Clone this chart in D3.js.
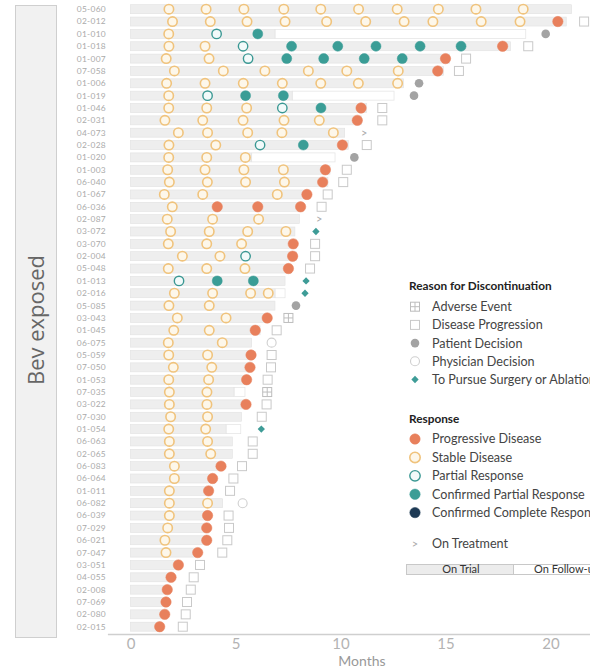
<!DOCTYPE html>
<html>
<head>
<meta charset="utf-8">
<script src="https://cdn.jsdelivr.net/npm/d3@7"></script>
<style>
  html, body { margin: 0; padding: 0; background: #fff; overflow: hidden; }
  svg { display: block; font-family: Lato, "Open Sans", sans-serif; }
</style>
</head>
<body>
<svg id="chart" width="590" height="669"></svg>
<script>
// Patient IDs, top to bottom
const patients = ["05-060","02-012","01-010","01-018","01-007","07-058","01-006","01-019","01-046","02-031",
  "04-073","02-028","01-020","01-003","06-040","01-067","06-036","02-087","03-072","03-070",
  "02-004","05-048","01-013","02-016","05-085","03-043","01-045","06-075","05-059","07-050",
  "01-053","07-035","03-022","07-030","01-054","06-063","02-065","06-083","06-064","01-011",
  "06-082","06-039","07-029","06-021","07-047","03-051","04-055","02-008","07-069","02-080","02-015"];

// Months on trial
const trialEnd = [21.0,20.75,6.88,18.1,15.2,14.9,13.0,7.7,11.25,11.0,
  10.2,10.37,5.77,9.5,9.4,8.55,8.23,8.04,7.83,7.9,
  7.9,7.67,7.36,6.88,6.88,6.64,6.17,5.77,5.85,5.8,
  5.65,4.93,5.6,5.29,4.55,4.85,4.85,4.4,4.05,3.9,
  4.39,3.8,3.75,3.75,3.3,2.4,2.05,1.9,1.8,1.75,1.5];

// End of follow-up (null when there is none)
const followEnd = [null,null,18.82,null,null,null,null,12.55,null,null,
  null,null,9.74,null,null,null,null,null,null,null,
  null,null,null,7.36,null,null,null,null,null,null,
  null,5.45,null,null,5.25,null,null,null,null,null,
  null,null,null,null,null,null,null,null,null,null,null];

// Tumour assessments: [month, response]
const assessments = [
  [[1.83,"SD"],[3.6,"SD"],[5.4,"SD"],[7.3,"SD"],[9.06,"SD"],[10.86,"SD"],[12.7,"SD"],[14.66,"SD"],[16.45,"SD"],[18.7,"SD"]],
  [[2.0,"SD"],[3.8,"SD"],[5.55,"SD"],[7.36,"SD"],[9.34,"SD"],[11.2,"SD"],[13.03,"SD"],[14.4,"SD"],[16.7,"SD"],[18.55,"SD"],[20.35,"PD"]],
  [[1.82,"SD"],[4.1,"PR"],[6.06,"CPR"]],
  [[1.83,"SD"],[3.55,"SD"],[5.36,"PR"],[7.67,"CPR"],[9.87,"CPR"],[11.69,"CPR"],[13.79,"CPR"],[15.74,"CPR"],[17.72,"PD"]],
  [[1.7,"SD"],[3.74,"SD"],[5.6,"PR"],[7.44,"CPR"],[9.2,"CPR"],[11.13,"CPR"],[12.94,"CPR"],[15.0,"PD"]],
  [[2.09,"SD"],[4.42,"SD"],[6.4,"SD"],[8.47,"SD"],[10.3,"SD"],[12.75,"SD"],[14.63,"PD"]],
  [[1.72,"SD"],[3.55,"SD"],[5.37,"SD"],[7.23,"SD"],[9.06,"SD"],[10.85,"SD"],[12.72,"SD"]],
  [[1.82,"SD"],[3.67,"PR"],[5.48,"CPR"],[7.28,"CPR"]],
  [[1.82,"SD"],[3.63,"SD"],[5.53,"SD"],[7.23,"PR"],[9.07,"CPR"],[10.98,"PD"]],
  [[1.64,"SD"],[3.44,"SD"],[5.36,"SD"],[7.31,"SD"],[8.99,"SD"],[10.8,"PD"]],
  [[2.28,"SD"],[3.67,"SD"],[5.58,"SD"],[7.21,"SD"],[9.66,"SD"]],
  [[1.83,"SD"],[4.06,"SD"],[6.17,"PR"],[8.23,"CPR"],[10.09,"PD"]],
  [[1.82,"SD"],[3.63,"SD"],[5.47,"SD"]],
  [[1.77,"SD"],[3.55,"SD"],[5.4,"SD"],[7.28,"SD"],[9.28,"PD"]],
  [[1.85,"SD"],[3.66,"SD"],[5.48,"SD"],[7.33,"SD"],[9.15,"PD"]],
  [[1.61,"SD"],[3.44,"SD"],[6.99,"SD"],[8.4,"PD"]],
  [[1.99,"SD"],[4.13,"PD"],[6.06,"PD"],[8.1,"PD"]],
  [[1.75,"SD"],[3.91,"SD"],[6.1,"SD"]],
  [[1.91,"SD"],[3.75,"SD"],[5.58,"SD"],[7.4,"SD"]],
  [[1.8,"SD"],[3.63,"SD"],[5.29,"SD"],[7.75,"PD"]],
  [[2.47,"SD"],[4.26,"SD"],[5.48,"PR"],[7.72,"PD"]],
  [[1.8,"SD"],[3.63,"SD"],[5.45,"SD"],[7.52,"PD"]],
  [[2.31,"PR"],[4.13,"CPR"],[5.85,"CPR"]],
  [[2.09,"SD"],[3.91,"SD"],[5.72,"SD"],[6.56,"SD"]],
  [[1.83,"SD"],[3.75,"SD"]],
  [[2.23,"SD"],[4.55,"SD"],[6.51,"PD"]],
  [[2.06,"SD"],[3.75,"SD"],[5.94,"PD"]],
  [[1.8,"SD"],[4.37,"SD"]],
  [[1.82,"SD"],[3.67,"SD"],[5.74,"PD"]],
  [[2.04,"SD"],[3.87,"SD"],[5.69,"PD"]],
  [[1.82,"SD"],[3.72,"SD"],[5.53,"PD"]],
  [[1.85,"SD"],[3.64,"SD"]],
  [[1.85,"SD"],[3.64,"SD"],[5.5,"PD"]],
  [[1.91,"SD"],[3.67,"SD"]],
  [[1.82,"SD"],[3.58,"SD"]],
  [[1.85,"SD"],[3.67,"SD"]],
  [[1.85,"SD"],[3.82,"SD"]],
  [[2.09,"SD"],[4.31,"PD"]],
  [[2.09,"SD"],[3.91,"PD"]],
  [[1.85,"SD"],[3.72,"PD"]],
  [[1.85,"SD"],[3.67,"SD"]],
  [[1.85,"SD"],[3.67,"PD"]],
  [[1.77,"SD"],[3.63,"PD"]],
  [[1.64,"SD"],[3.63,"PD"]],
  [[1.69,"SD"],[3.2,"PD"]],
  [[2.28,"PD"]],
  [[1.93,"PD"]],
  [[1.75,"PD"]],
  [[1.69,"PD"]],
  [[1.63,"PD"]],
  [[1.39,"PD"]]
];

// Reason for discontinuation and when it is marked
const endReason = ["","DP","PAT","DP","DP","DP","PAT","PAT","DP","DP",
  "ONT","DP","PAT","DP","DP","DP","DP","ONT","SURG","DP",
  "DP","DP","SURG","SURG","PAT","AE","DP","PHYS","DP","DP",
  "DP","AE","DP","DP","SURG","DP","DP","DP","DP","DP",
  "PHYS","DP","DP","DP","DP","DP","DP","DP","DP","DP","DP"];
const endMonth = [null,21.6,19.77,18.94,15.98,15.64,13.74,13.5,11.99,11.99,
  11.13,11.25,10.66,10.3,10.13,9.39,9.1,8.99,8.83,8.79,
  8.79,8.55,8.36,8.31,7.88,7.52,6.96,6.72,6.72,6.69,
  6.53,6.51,6.48,6.25,6.23,5.82,5.82,5.31,4.9,4.74,
  5.34,4.67,4.69,4.61,4.37,3.31,3.01,2.87,2.69,2.63,2.49];

const xTicks = [0, 5, 10, 15, 20];

const reasonLegend = [["AE","Adverse Event"],["DP","Disease Progression"],["PAT","Patient Decision"],
  ["PHYS","Physician Decision"],["SURG","To Pursue Surgery or Ablation"]];
const responseLegend = [["PD","Progressive Disease"],["SD","Stable Disease"],["PR","Partial Response"],
  ["CPR","Confirmed Partial Response"],["CCR","Confirmed Complete Response"]];

const svg = d3.select("#chart");

const x = d3.scaleLinear().domain([0, 22]).range([130.5, 592.5]);
const y = d3.scalePoint().domain(patients).range([9.2, 626.7]);

// Group panel on the left
svg.append("rect").attr("x", 15.5).attr("y", 5.5).attr("width", 41).attr("height", 632)
  .attr("fill", "#f1f1f1").attr("stroke", "#cfcfcf");
svg.append("text").attr("transform", "translate(44,320) rotate(-90)")
  .attr("text-anchor", "middle").attr("font-size", 22).attr("fill", "#666")
  .attr("font-family", "'Open Sans', Lato, sans-serif")
  .text("Bev exposed");

// Patient labels
svg.append("g").selectAll("text").data(patients).join("text")
  .attr("x", 106).attr("y", d => y(d)).attr("dy", "0.35em")
  .attr("text-anchor", "end").attr("font-size", 8.4).attr("fill", "#aaa")
  .attr("letter-spacing", 0.3)
  .text(d => d);

const barH = 9;
const bars = svg.append("g");
// Follow-up segments
bars.selectAll("rect.follow").data(patients.map((p, i) => i).filter(i => followEnd[i] != null)).join("rect")
  .attr("class", "follow")
  .attr("x", i => x(trialEnd[i])).attr("y", i => y(patients[i]) - barH / 2)
  .attr("width", i => x(followEnd[i]) - x(trialEnd[i])).attr("height", barH)
  .attr("fill", "#fff").attr("stroke", "#e6e6e6").attr("stroke-width", 0.8);
// On-trial bars
bars.selectAll("rect.trial").data(patients).join("rect")
  .attr("class", "trial")
  .attr("x", x(0)).attr("y", d => y(d) - barH / 2)
  .attr("width", (d, i) => x(trialEnd[i]) - x(0)).attr("height", barH)
  .attr("fill", "#eeeeee").attr("stroke", "#e2e2e2").attr("stroke-width", 0.6);

// Response markers
const respStyle = {
  PD:  { fill: "#e8805c", stroke: "#e8805c", sw: 0.5, r: 5.2 },
  SD:  { fill: "#fdf7ea", stroke: "#f0c37c", sw: 1.6, r: 4.7 },
  PR:  { fill: "#f2fafa", stroke: "#3a9893", sw: 1.4, r: 4.7 },
  CPR: { fill: "#3a9d96", stroke: "#3a9d96", sw: 0.5, r: 5.0 },
  CCR: { fill: "#1e3a55", stroke: "#1e3a55", sw: 0.5, r: 5.0 }
};
const pts = [];
assessments.forEach((list, i) => list.forEach(([m, r]) => pts.push({ p: patients[i], m, r })));
svg.append("g").selectAll("circle").data(pts).join("circle")
  .attr("cx", d => x(d.m)).attr("cy", d => y(d.p)).attr("r", d => respStyle[d.r].r)
  .attr("fill", d => respStyle[d.r].fill).attr("stroke", d => respStyle[d.r].stroke)
  .attr("stroke-width", d => respStyle[d.r].sw);

// Discontinuation symbols
function drawReason(g, code, cx, cy) {
  if (code === "DP") {
    g.append("rect").attr("x", cx - 4.5).attr("y", cy - 4.5).attr("width", 9).attr("height", 9)
      .attr("fill", "#fff").attr("stroke", "#c9c9c9").attr("stroke-width", 1);
  } else if (code === "AE") {
    g.append("rect").attr("x", cx - 4.5).attr("y", cy - 4.5).attr("width", 9).attr("height", 9)
      .attr("fill", "#fff").attr("stroke", "#bdbdbd").attr("stroke-width", 1);
    g.append("path").attr("d", `M${cx},${cy - 4.5}V${cy + 4.5}M${cx - 4.5},${cy}H${cx + 4.5}`)
      .attr("stroke", "#bdbdbd").attr("stroke-width", 1);
  } else if (code === "PAT") {
    g.append("circle").attr("cx", cx).attr("cy", cy).attr("r", 4.3).attr("fill", "#a3a3a3");
  } else if (code === "PHYS") {
    g.append("circle").attr("cx", cx).attr("cy", cy).attr("r", 4.5)
      .attr("fill", "#fff").attr("stroke", "#cfcfcf").attr("stroke-width", 1.1);
  } else if (code === "SURG") {
    g.append("path").attr("d", d3.symbol(d3.symbolDiamond2, 34)())
      .attr("transform", `translate(${cx},${cy})`).attr("fill", "#3e9c97");
  } else if (code === "ONT") {
    g.append("text").attr("x", cx).attr("y", cy).attr("dy", "0.35em").attr("text-anchor", "middle")
      .attr("font-size", 11).attr("fill", "#aaa").text(">");
  }
}
const endG = svg.append("g");
patients.forEach((p, i) => {
  if (endReason[i]) drawReason(endG, endReason[i], x(endMonth[i]), y(p));
});

// X axis
const axisScale = x.copy().domain([-1.1, 22.5]).range([x(-1.1), x(22.5)]);
const axisG = svg.append("g").attr("transform", "translate(0,634)")
  .call(d3.axisBottom(axisScale).tickValues(xTicks).tickSize(0).tickPadding(4).tickFormat(d3.format("d")));
axisG.select(".domain").attr("stroke", "#cfcfcf").attr("stroke-width", 1.6);
axisG.selectAll("text").attr("font-size", 15).attr("fill", "#b3b3b3")
  .attr("font-family", "Lato, sans-serif");
svg.append("text").attr("x", 362).attr("y", 666).attr("text-anchor", "middle")
  .attr("font-size", 14).attr("fill", "#999").text("Months");

// Legend: reason for discontinuation
const lg = svg.append("g");
lg.append("text").attr("x", 409).attr("y", 290).attr("font-size", 11.8).attr("font-weight", "bold")
  .attr("fill", "#222").text("Reason for Discontinuation");
reasonLegend.forEach(([code, label], k) => {
  const cy = 306.7 + k * 18.2;
  drawReason(lg, code, 415, cy);
  lg.append("text").attr("x", 432).attr("y", cy).attr("dy", "0.35em").attr("font-size", 12.6)
    .attr("fill", "#444").text(label);
});

// Legend: response
lg.append("text").attr("x", 409).attr("y", 423).attr("font-size", 11.8).attr("font-weight", "bold")
  .attr("fill", "#222").text("Response");
responseLegend.forEach(([code, label], k) => {
  const cy = 439 + k * 18.4;
  const s = respStyle[code];
  lg.append("circle").attr("cx", 415).attr("cy", cy).attr("r", 5.2)
    .attr("fill", s.fill).attr("stroke", s.stroke).attr("stroke-width", s.sw);
  lg.append("text").attr("x", 432).attr("y", cy).attr("dy", "0.35em").attr("font-size", 12.6)
    .attr("fill", "#444").text(label);
});
drawReason(lg, "ONT", 415, 544);
lg.append("text").attr("x", 432).attr("y", 544).attr("dy", "0.35em").attr("font-size", 12.6)
  .attr("fill", "#444").text("On Treatment");

// Legend: bar segments
lg.append("rect").attr("x", 406.5).attr("y", 564.5).attr("width", 107).attr("height", 10)
  .attr("fill", "#ececec").attr("stroke", "#c8c8c8");
lg.append("rect").attr("x", 513.5).attr("y", 564.5).attr("width", 90).attr("height", 10)
  .attr("fill", "#fff").attr("stroke", "#c8c8c8");
lg.append("text").attr("x", 461).attr("y", 569.5).attr("dy", "0.35em").attr("text-anchor", "middle")
  .attr("font-size", 11).attr("fill", "#333").text("On Trial");
lg.append("text").attr("x", 534).attr("y", 569.5).attr("dy", "0.35em")
  .attr("font-size", 11).attr("fill", "#333").text("On Follow-up");
</script>
</body>
</html>
